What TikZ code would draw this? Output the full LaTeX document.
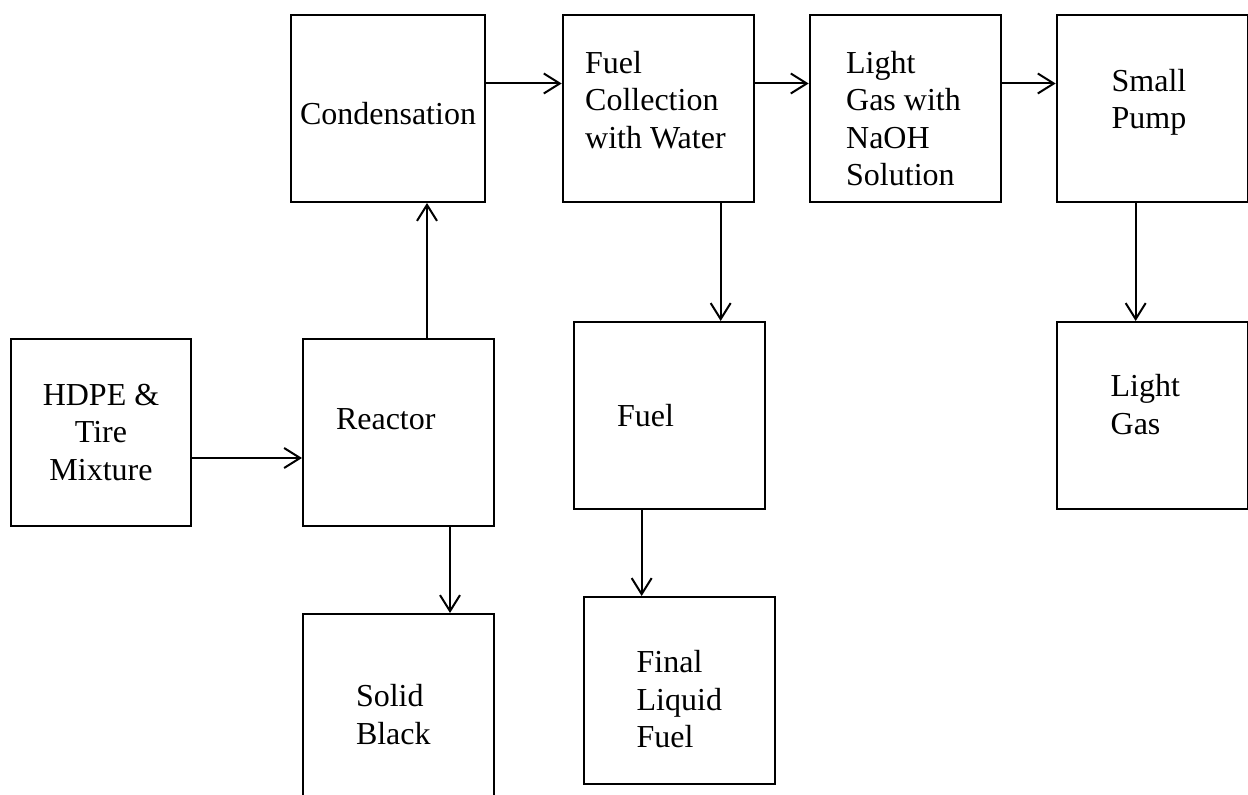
\documentclass[tikz,border=0pt]{standalone}
\usepackage{fontspec}
\setmainfont{Liberation Serif}
\usepackage{tikz}
\usetikzlibrary{arrows.meta,positioning}

\begin{document}
\begin{tikzpicture}[
  font=\fontsize{16}{18.75}\selectfont,
  stage/.style={rectangle, draw=black, line width=1pt, fill=white,
                minimum width=95.5pt, minimum height=93.5pt, align=flush left},
  flow/.style={-{Straight Barb[length=8pt,width=10pt]}, line width=1pt, draw=black},
]
\clip (0,0) rectangle (624pt,-397.5pt);

\node[stage, minimum width=90pt, align=center] (mix) at (50.5pt,-216.25pt) {HDPE \&\\Tire\\Mixture};
\node[stage, right=55pt of mix, text width=62.5pt, text depth=13.5pt] (reactor) {Reactor};
\node[stage, above=67.5pt of reactor, xshift=-5.25pt, minimum width=96pt, align=center,
      text width=90pt, text height=15.9pt] (cond) {Condensation};
\node[stage, right=38pt of cond, text width=73pt, text depth=46.5pt] (coll) {Fuel\\Collection\\with Water};
\node[stage, right=27pt of coll, text width=59pt, text depth=46.25pt] (naoh) {Light\\Gas with\\NaOH\\Solution};
\node[stage, right=27pt of naoh, text width=40.5pt, text depth=28.25pt] (pump) {Small\\Pump};

\node[stage, below=59pt of coll, xshift=5.75pt, text width=52.5pt] (fuel) {Fuel};
\node[stage, below=59pt of pump, text width=41.5pt, text depth=29.75pt] (gas) {Light\\Gas};
\node[stage, below=43pt of reactor, text width=42.5pt, text depth=11.75pt] (solid) {Solid\\Black};
\node[stage, below=43pt of fuel, xshift=4.75pt, text width=42.5pt, text depth=29pt] (final) {Final\\Liquid\\Fuel};

\coordinate (r-up)   at ([xshift=14.25pt]reactor.north);
\coordinate (r-down) at ([xshift=25.75pt]reactor.south);
\coordinate (c-down) at ([xshift=31.25pt]coll.south);
\coordinate (f-down) at ([xshift=-14pt]fuel.south);
\coordinate (p-down) at ([xshift=-8.25pt]pump.south);

\draw[flow] ([yshift=-12.75pt]mix.east) -- ([yshift=-12.75pt]reactor.west);
\draw[flow] (r-up) -- (r-up |- cond.south);
\draw[flow] (r-down) -- (r-down |- solid.north);
\draw[flow] ([yshift=12.5pt]cond.east) -- ([yshift=12.5pt]coll.west);
\draw[flow] ([yshift=12.5pt]coll.east) -- ([yshift=12.5pt]naoh.west);
\draw[flow] ([yshift=12.5pt]naoh.east) -- ([yshift=12.5pt]pump.west);
\draw[flow] (c-down) -- (c-down |- fuel.north);
\draw[flow] (f-down) -- (f-down |- final.north);
\draw[flow] (p-down) -- (p-down |- gas.north);

\end{tikzpicture}
\end{document}
